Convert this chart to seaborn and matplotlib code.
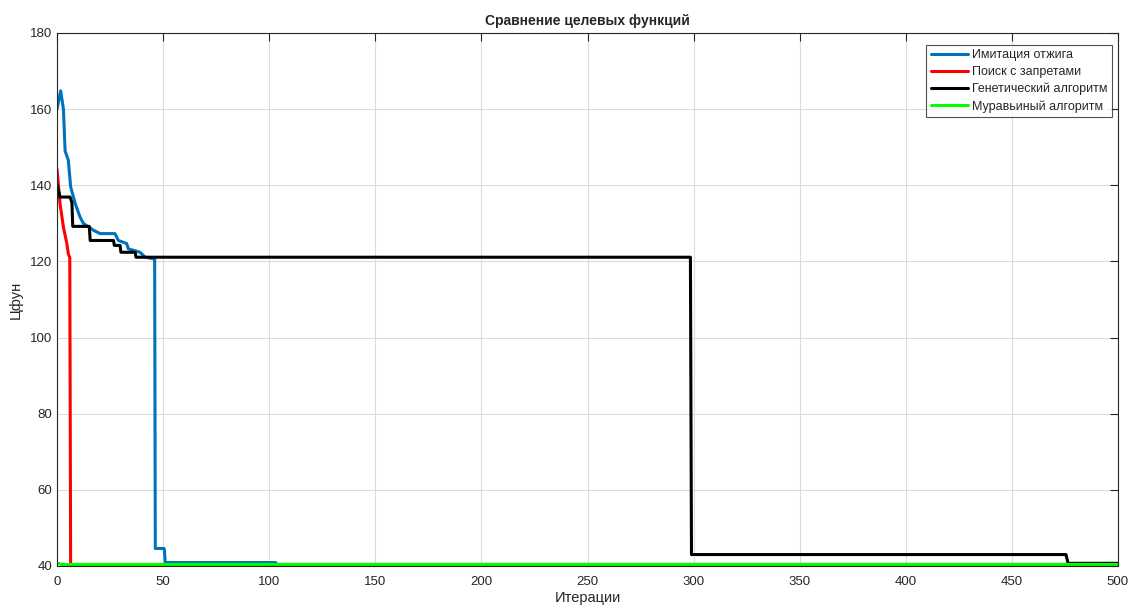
import pandas as pd
import seaborn as sns
import matplotlib.pyplot as plt

# step-wise traces (x = iteration, y = objective)
anneal_x = [0, 1.7, 3, 3.8, 5.3, 6.4, 8.5, 10.8, 12.4, 17.1, 20.3, 27.3, 28.9, 32.8, 33.6,
            39.1, 41.5, 45.4, 46.0, 46.3, 50.5, 51.0, 103.0, 103.5, 500]
anneal_y = [160, 164.8, 160, 149, 146.6, 139.6, 135.3, 131.7, 130, 128.2, 127.3, 127.3, 125.5,
            124.7, 123.3, 122.4, 121.1, 120.7, 120.7, 44.6, 44.6, 40.9, 40.9, 40.4, 40.4]

tabu_x = [0, 1.4, 3, 4.6, 5.3, 6.0, 6.4, 500]
tabu_y = [144.2, 135.2, 129, 124.7, 122, 121, 40.4, 40.4]

genetic_x = [0, 1.4, 6.1, 7.0, 7.4, 15.2, 15.6, 26.6, 27.0, 29.7, 30.1, 36.8, 37.2,
             298.5, 299.0, 475.5, 476.5, 500]
genetic_y = [140.2, 136.9, 136.9, 135.5, 129.2, 129.2, 125.5, 125.5, 124.2, 124.2, 122.4,
             122.4, 121.1, 121.1, 43.0, 43.0, 40.7, 40.7]

ant_x = [0, 2, 500]
ant_y = [40.8, 40.4, 40.4]

labels = ['Имитация отжига', 'Поиск с запретами', 'Генетический алгоритм', 'Муравьиный алгоритм']
colors = ['#0072BD', '#FF0000', '#000000', '#00FF00']

sns.set_style('white')
plt.rcParams['font.family'] = ['Liberation Sans', 'DejaVu Sans']

fig = plt.figure(figsize=(11.32, 6.05), dpi=100)
ax = fig.add_axes([0.0504, 0.0645, 0.9372, 0.881])

series = [(anneal_x, anneal_y), (tabu_x, tabu_y), (genetic_x, genetic_y), (ant_x, ant_y)]
for (xs, ys), name, col in zip(series, labels, colors):
    df = pd.DataFrame({'x': xs, 'y': ys})
    sns.lineplot(data=df, x='x', y='y', ax=ax, color=col, linewidth=2.2,
                 estimator=None, sort=False, label=name)

ax.set_xlim(0, 500)
ax.set_ylim(40, 180)
ax.set_xticks(range(0, 501, 50))
ax.set_yticks(range(40, 181, 20))
ax.grid(True, color='#dcdcdc', linewidth=0.8)
ax.set_axisbelow(True)
for s in ax.spines.values():
    s.set_color('#262626')
    s.set_linewidth(0.8)
ax.tick_params(direction='in', top=True, right=True, length=6, width=0.8,
               labelsize=9.5, labelcolor='#262626', color='#262626')
ax.tick_params(axis='x', pad=7.5)

ax.set_title('Сравнение целевых функций', fontsize=10, fontweight='bold', pad=6)
ax.set_xlabel('Итерации', fontsize=10.5, color='#262626', labelpad=2)
ax.set_ylabel('Цфун', fontsize=10.5, color='#262626', labelpad=5)

leg = ax.legend(loc='upper right', bbox_to_anchor=(0.9943, 0.9775), fontsize=9,
                frameon=True, fancybox=False, edgecolor='#262626', handlelength=3.0,
                borderaxespad=0, borderpad=0.35, labelspacing=0.38, handletextpad=0.3)
leg.get_frame().set_linewidth(0.8)

fig.savefig('out.png', dpi=100)
